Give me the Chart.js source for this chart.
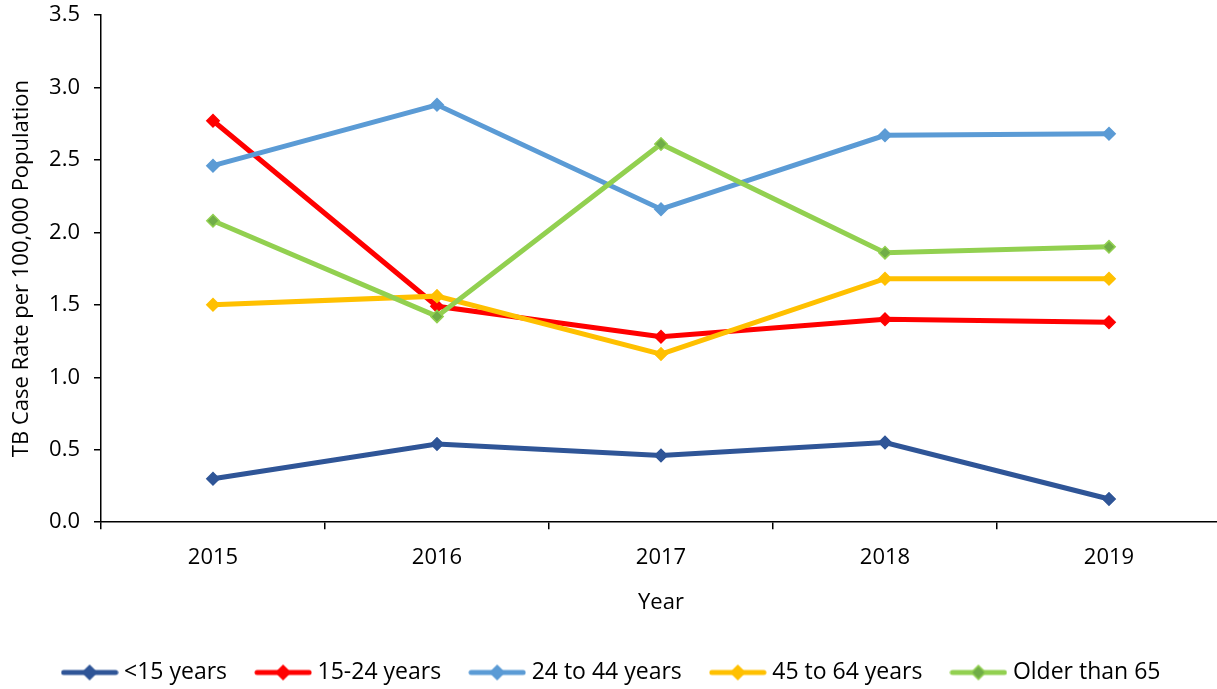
<!DOCTYPE html>
<html>
<head>
<meta charset="utf-8">
<script src="https://cdn.jsdelivr.net/npm/chart.js@4.4.1/dist/chart.umd.min.js"></script>
<style>
html,body{margin:0;padding:0;background:#fff;overflow:hidden;}
#wrap{width:1221px;height:689px;position:relative;}
</style>
</head>
<body>
<div id="wrap"><canvas id="c"></canvas></div>
<script>
const years = ['2015', '2016', '2017', '2018', '2019'];
const seriesNames = ['<15 years', '15-24 years', '24 to 44 years', '45 to 64 years', 'Older than 65'];
const under15 = [0.30, 0.54, 0.46, 0.55, 0.16];
const age15to24 = [2.77, 1.49, 1.28, 1.40, 1.38];
const age24to44 = [2.46, 2.88, 2.16, 2.67, 2.68];
const age45to64 = [1.50, 1.56, 1.16, 1.68, 1.68];
const over65 = [2.08, 1.42, 2.61, 1.86, 1.90];
const yTicks = [0, 0.5, 1.0, 1.5, 2.0, 2.5, 3.0, 3.5];

const lineColors = ['#2F5597', '#FF0000', '#5B9BD5', '#FFC000', '#92D050'];
const markerColors = ['#2F5597', '#FF0000', '#5B9BD5', '#FFC000', '#70AD47'];
const allValues = [under15, age15to24, age24to44, age45to64, over65];

const FONT = "'Open Sans', 'Noto Sans', sans-serif";

function legendIcon(i) {
  const c = document.createElement('canvas');
  c.width = 58; c.height = 18;
  const g = c.getContext('2d');
  g.strokeStyle = lineColors[i];
  g.lineWidth = 5;
  g.lineCap = 'round';
  g.beginPath(); g.moveTo(3, 9); g.lineTo(55, 9); g.stroke();
  g.fillStyle = markerColors[i];
  g.strokeStyle = lineColors[i];
  g.lineWidth = 1.5;
  g.beginPath();
  g.moveTo(29, 2); g.lineTo(36, 9); g.lineTo(29, 16); g.lineTo(22, 9); g.closePath();
  g.fill(); g.stroke();
  return c;
}
const icons = seriesNames.map((_, i) => legendIcon(i));

const datasets = seriesNames.map((name, i) => ({
  label: name,
  data: allValues[i],
  borderColor: lineColors[i],
  backgroundColor: markerColors[i],
  borderWidth: 5,
  pointStyle: 'rectRot',
  pointRadius: 6.2,
  pointHoverRadius: 6.2,
  pointBackgroundColor: markerColors[i],
  pointBorderColor: lineColors[i],
  pointBorderWidth: 1.5,
  tension: 0,
  order: -i
}));

const shiftLegend = {
  id: 'shiftLegend',
  afterLayout(chart) {
    if (chart.legend) {
      chart.legend.top += 5; chart.legend.bottom += 5;
      chart.legend.left += 3; chart.legend.right += 3;
    }
  }
};

new Chart(document.getElementById('c'), {
  type: 'line',
  data: { labels: years, datasets: datasets },
  plugins: [shiftLegend],
  options: {
    responsive: true,
    maintainAspectRatio: false,
    animation: false,
    layout: { autoPadding: false, padding: { top: 15, left: 0, right: 0, bottom: 0 } },
    plugins: {
      tooltip: { enabled: false },
      legend: {
        position: 'bottom',
        labels: {
          usePointStyle: true,
          pointStyleWidth: 46,
          padding: 33,
          color: '#000',
          font: { family: FONT, size: 23 },
          generateLabels: (chart) => seriesNames.map((n, i) => ({
            text: n,
            datasetIndex: i,
            pointStyle: icons[i],
            fillStyle: lineColors[i],
            strokeStyle: lineColors[i],
            lineWidth: 0,
            fontColor: '#000',
            hidden: !chart.isDatasetVisible(i)
          }))
        }
      }
    },
    scales: {
      x: {
        type: 'category',
        offset: true,
        afterFit: (s) => { s.paddingLeft = 0; s.paddingRight = 0; },
        border: { display: true, color: '#000', width: 1.5 },
        grid: { offset: true, drawOnChartArea: false, drawTicks: true, tickLength: 7, color: '#000', lineWidth: 1.5 },
        ticks: { color: '#000', padding: 15, font: { family: FONT, size: 22 } },
        title: { display: true, text: 'Year', color: '#000', font: { family: FONT, size: 22 }, padding: { top: 4, bottom: 7 } }
      },
      y: {
        min: 0,
        max: 3.5,
        afterBuildTicks: (s) => { s.ticks = yTicks.map(v => ({ value: v })); },
        afterFit: (s) => { s.width = 101; s.paddingTop = 0; s.paddingBottom = 0; },
        border: { display: true, color: '#000', width: 1.5 },
        grid: { drawOnChartArea: false, drawTicks: true, tickLength: 7, color: '#000', lineWidth: 1.5 },
        ticks: { color: '#000', padding: 14, font: { family: FONT, size: 22 }, callback: (v) => Number(v).toFixed(1) },
        title: { display: true, text: 'TB Case Rate per 100,000 Population', color: '#000', font: { family: FONT, size: 22 }, padding: { top: 9, bottom: 4 } }
      }
    }
  }
});
</script>
</body>
</html>
